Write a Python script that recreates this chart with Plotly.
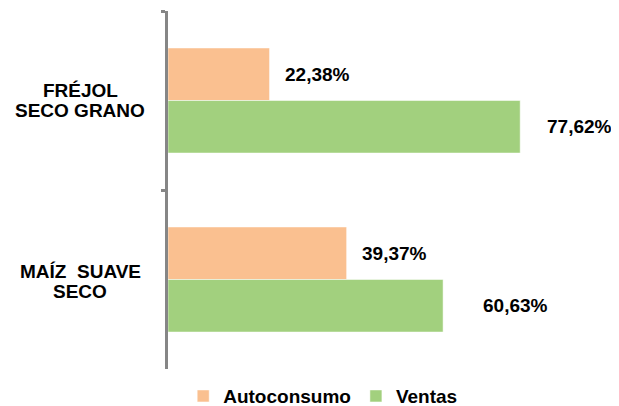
import plotly.graph_objects as go

categories = ["FRÉJOL SECO GRANO", "MAÍZ SUAVE SECO"]
category_lines = [["FRÉJOL", "SECO GRANO"], ["MAÍZ  SUAVE", "SECO"]]
series_names = ["Autoconsumo", "Ventas"]
autoconsumo = [22.38, 39.37]
ventas = [77.62, 60.63]
colors = ["#FAC090", "#A2D07E"]

# hand placed label offsets (px) like in the source workbook
label_shift = {"Autoconsumo": [13, 13], "Ventas": [25, 38]}

fig = go.Figure()
for name, vals, col in zip(series_names, [autoconsumo, ventas], colors):
    fig.add_trace(go.Bar(
        y=categories, x=vals, name=name, orientation="h",
        marker=dict(color=col, line=dict(color="white", width=0.5)),
    ))

font = dict(family="Arial, Liberation Sans", size=19, color="black", weight="bold")

annotations = []
for name, vals, ys in [("Autoconsumo", autoconsumo, 26), ("Ventas", ventas, -26)]:
    for cat, v, dx in zip(categories, vals, label_shift[name]):
        annotations.append(dict(
            x=v, y=cat, xref="x", yref="y", text=f"{v:.2f}%".replace(".", ","),
            showarrow=False, xanchor="left", xshift=dx, yshift=ys, font=font,
        ))
# category labels, two tight lines each
for cat, lines, dy in zip(categories, category_lines, [0, -2]):
    for line, ys in zip(lines, [10, -10]):
        annotations.append(dict(
            x=-0.195, y=cat, xref="paper", yref="y", text=line, showarrow=False,
            xanchor="center", yshift=ys + dy, font=font,
        ))

# page body adds an 8px margin; figure is taller than the window so the
# legend has room below the plot without pushing the margins
fig.update_layout(
    barmode="group",
    bargap=0.413,
    bargroupgap=0,
    width=611, height=420,
    margin=dict(l=160, r=0, t=3, b=59),
    plot_bgcolor="white", paper_bgcolor="white",
    font=font,
    showlegend=True,
    legend=dict(orientation="h", x=0.343, xanchor="center", y=-0.0226, yanchor="top",
                font=font, itemwidth=30),
    annotations=annotations,
)
fig.update_xaxes(range=[0, 99.4], visible=False, automargin=False)
fig.update_yaxes(autorange="reversed", showticklabels=False, showline=True,
                 linecolor="#868686", linewidth=3, ticks="outside", ticklen=4,
                 tickwidth=3, tickcolor="#868686", tickson="boundaries",
                 showgrid=False, zeroline=False, automargin=False)

fig.write_html("out.html")
